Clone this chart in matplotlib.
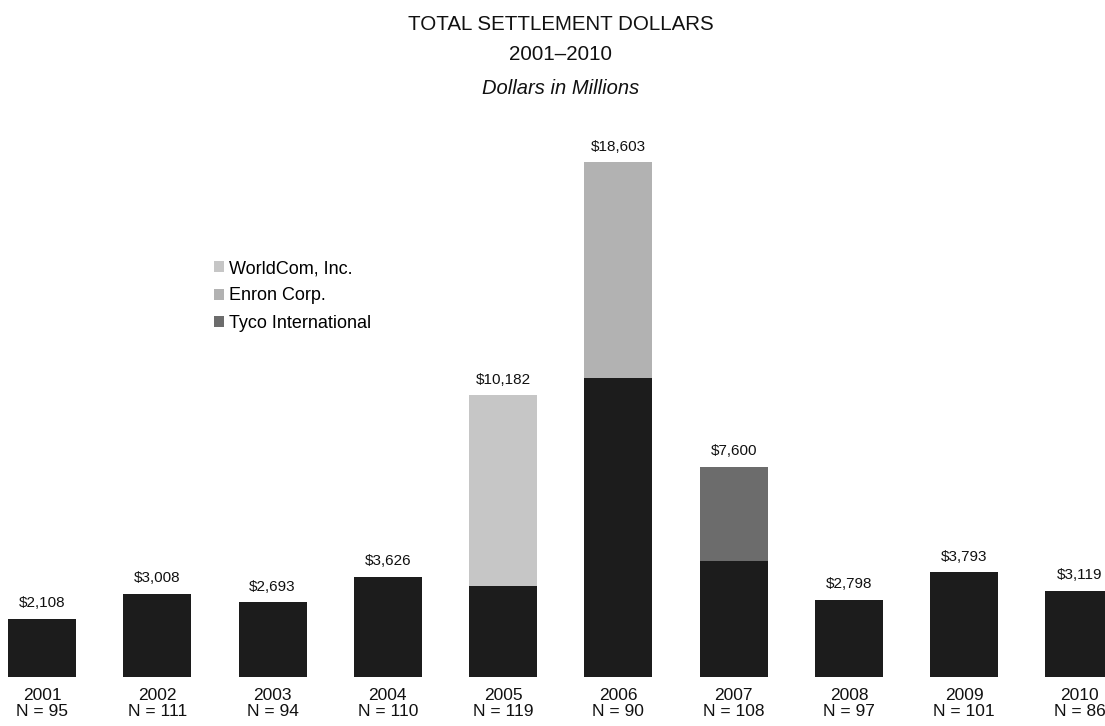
import matplotlib
matplotlib.use("Agg")
import matplotlib.pyplot as plt
from matplotlib.patches import Patch

plt.rcParams['font.family'] = ['Liberation Sans', 'DejaVu Sans']

# Settlement totals by year (dollars in millions)
years = ["2001", "2002", "2003", "2004", "2005", "2006", "2007", "2008", "2009", "2010"]
case_counts = [95, 111, 94, 110, 119, 90, 108, 97, 101, 86]
totals = [2108, 3008, 2693, 3626, 10182, 18603, 7600, 2798, 3793, 3119]
# Large single settlements stacked on top of the remaining cases
worldcom = [0, 0, 0, 0, 6895, 0, 0, 0, 0, 0]
enron = [0, 0, 0, 0, 0, 7803, 0, 0, 0, 0]
tyco = [0, 0, 0, 0, 0, 0, 3410, 0, 0, 0]
other = [t - w - e - ty for t, w, e, ty in zip(totals, worldcom, enron, tyco)]

c_other = "#1c1c1c"
c_worldcom = "#c6c6c6"
c_enron = "#b2b2b2"
c_tyco = "#6c6c6c"

W, H = 1105, 726
fig = plt.figure(figsize=(W / 100, H / 100), dpi=100)
ax = fig.add_axes([0, (H - 677) / H, 1, (677 - 100) / H])

x = list(range(len(years)))
w = 0.59
ax.bar(x, other, width=w, color=c_other, linewidth=0)
ax.bar(x, worldcom, width=w, bottom=other, color=c_worldcom, linewidth=0)
ax.bar(x, enron, width=w, bottom=other, color=c_enron, linewidth=0)
ax.bar(x, tyco, width=w, bottom=other, color=c_tyco, linewidth=0)

for xi, t in zip(x, totals):
    ax.annotate(f"${t:,}", (xi, t), xytext=(0, 6), textcoords="offset points",
                ha="center", va="bottom", fontsize=11, color="#111111")

for xi, yr, n in zip(x, years, case_counts):
    ax.annotate(yr, (xi, 0), xytext=(0, -19 * 0.72), textcoords="offset points",
                ha="center", va="center", fontsize=12.5, color="#111111")
    ax.annotate(f"N = {n}", (xi, 0), xytext=(0, -35 * 0.72), textcoords="offset points",
                ha="center", va="center", fontsize=12.5, color="#111111")

ax.set_xlim(-42 / 115.28, 9 + (W - 1079.5) / 115.28)
ax.set_ylim(0, (677 - 100) * 36.12)
ax.axis("off")

cx = 561 / W
fig.text(cx, 1 - 24 / H, "TOTAL SETTLEMENT DOLLARS", ha="center", va="center",
         fontsize=14.8, color="#111111")
fig.text(cx, 1 - 55 / H, "2001\u20132010", ha="center", va="center",
         fontsize=14.8, color="#111111")
fig.text(cx, 1 - 88 / H, "Dollars in Millions", ha="center", va="center",
         fontsize=14.5, style="italic", color="#111111")

handles = [Patch(facecolor=c_worldcom, edgecolor="none", label="WorldCom, Inc."),
           Patch(facecolor=c_enron, edgecolor="none", label="Enron Corp."),
           Patch(facecolor=c_tyco, edgecolor="none", label="Tyco International")]
fig.legend(handles=handles, loc="upper left", bbox_to_anchor=(214 / W, 1 - 260 / H),
           frameon=False, fontsize=13, handlelength=0.55, handleheight=0.55,
           handletextpad=0.3, labelspacing=0.58, borderaxespad=0, borderpad=0)

fig.savefig("out.png", dpi=100)
